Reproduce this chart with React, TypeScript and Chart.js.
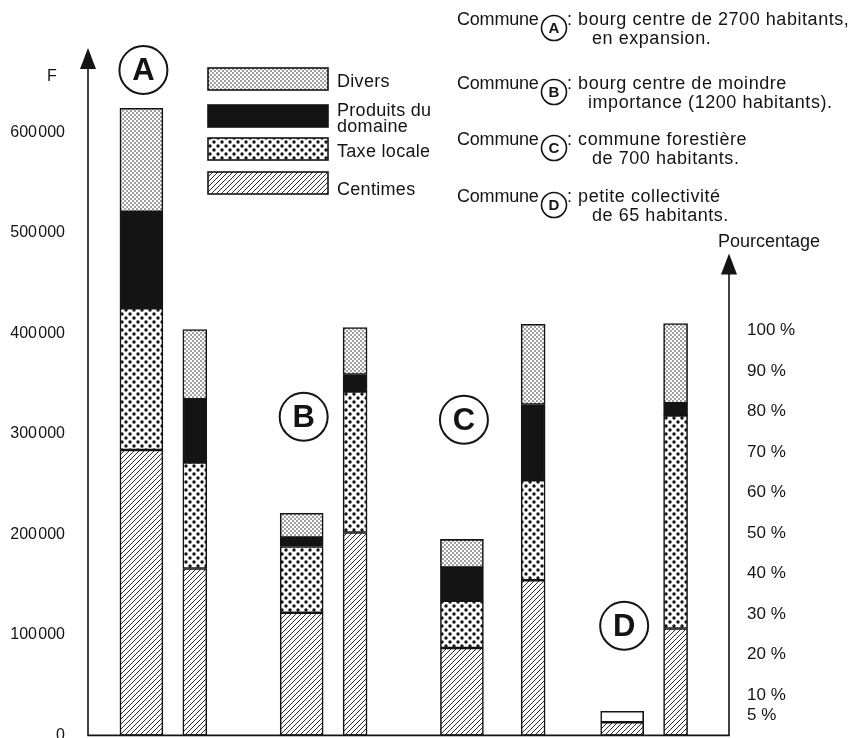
import React, { useEffect, useRef } from 'react';
import { Chart, registerables } from 'chart.js';

Chart.register(...registerables);

// ---------------- DATA ----------------
const communes = ['A', 'B', 'C', 'D'];
const seriesNames = ['Centimes', 'Taxe locale', 'Produits du domaine', 'Divers'];

// Montants en francs (barre large de chaque commune)
const centimesF = [284000, 122000, 87000, 13000];
const taxeLocaleF = [141000, 66000, 47000, null];
const produitsF = [96000, 9000, 33000, null];
const diversF = [103000, 24000, 28000, null];
const nonDetailleF = [null, null, null, 11000];

// Répartition en pourcentage (barre étroite de chaque commune)
const centimesPct = [41.2, 50.1, 38.3, 26.4];
const taxeLocalePct = [26.2, 34.8, 24.7, 52.6];
const produitsPct = [15.6, 4.2, 18.7, 3.0];
const diversPct = [17.2, 11.6, 19.8, 19.7];

// Axes
const fTicks = [0, 100000, 200000, 300000, 400000, 500000, 600000];
const pctTicks = [5, 10, 20, 30, 40, 50, 60, 70, 80, 90, 100];
const F_AXIS_MAX = 684000;
const F_FOR_100_PCT = 403000;
const PCT_AXIS_TOP = 119;

// Textes
const legendLabels = [['Divers'], ['Produits du', 'domaine'], ['Taxe locale'], ['Centimes']];
const descLines = [
  [': bourg centre de 2700 habitants,', 'en expansion.'],
  [': bourg centre de moindre', 'importance (1200 habitants).'],
  [': commune forestière', 'de 700 habitants.'],
  [': petite collectivité', 'de 65 habitants.'],
];
// Emplacement des lettres cerclées (valeur sur l'axe F)
const letterAnchorF = [662000, 317000, 314000, 109000];

// ---------------- LAYOUT ----------------
const SLOTS = 37;
const absSlot = [3, 12, 21, 30];
const pctSlot = [6, 15, 25, 33];
const INK = '#141414';
const FONT = '"Liberation Sans", Arial, sans-serif';
const CANVAS_W = 856;
const CANVAS_H = 768;

function spread(values: (number | null)[], slots: number[]) {
  const arr: (number | null)[] = new Array(SLOTS).fill(null);
  values.forEach((v, i) => { arr[slots[i]] = v; });
  return arr;
}

function makePattern(size: number, draw: (c: CanvasRenderingContext2D) => void) {
  const cv = document.createElement('canvas');
  cv.width = size; cv.height = size;
  const c = cv.getContext('2d')!;
  c.fillStyle = '#ffffff';
  c.fillRect(0, 0, size, size);
  c.fillStyle = INK; c.strokeStyle = INK;
  draw(c);
  return c.createPattern(cv, 'repeat')!;
}

function fmtF(v: number) {
  if (v === 0) return '0';
  const s = String(v);
  return s.slice(0, s.length - 3) + '\u200A' + s.slice(-3);
}

function text(ctx: CanvasRenderingContext2D, t: string, x: number, y: number, font: string, align: CanvasTextAlign = 'left', spacing = '0px') {
  ctx.font = font;
  (ctx as any).letterSpacing = spacing;
  ctx.textAlign = align;
  ctx.textBaseline = 'middle';
  ctx.fillText(t, x, y);
}

function circled(ctx: CanvasRenderingContext2D, letter: string, x: number, y: number, r: number, size: number, lw: number) {
  ctx.beginPath();
  ctx.arc(x, y, r, 0, Math.PI * 2);
  ctx.lineWidth = lw;
  ctx.stroke();
  text(ctx, letter, x, y + size * 0.04, `bold ${size}px ${FONT}`, 'center');
}

function arrow(ctx: CanvasRenderingContext2D, x: number, tipY: number) {
  ctx.beginPath();
  ctx.moveTo(x, tipY);
  ctx.lineTo(x - 8, tipY + 21);
  ctx.lineTo(x + 8, tipY + 21);
  ctx.closePath();
  ctx.fill();
}

export default function App() {
  const ref = useRef<HTMLCanvasElement | null>(null);

  useEffect(() => {
    if (!ref.current) return;
    const pDivers = makePattern(4, (c) => {
      c.beginPath(); c.arc(1, 1, 0.75, 0, Math.PI * 2); c.fill();
      c.beginPath(); c.arc(3, 3, 0.75, 0, Math.PI * 2); c.fill();
    });
    const pTaxe = makePattern(8, (c) => {
      c.beginPath(); c.arc(2, 2, 1.7, 0, Math.PI * 2); c.fill();
      c.beginPath(); c.arc(6, 6, 1.7, 0, Math.PI * 2); c.fill();
    });
    const pCentimes = makePattern(5, (c) => {
      c.lineWidth = 0.9;
      c.beginPath();
      c.moveTo(-1, 6); c.lineTo(6, -1);
      c.moveTo(-1, 1); c.lineTo(1, -1);
      c.moveTo(4, 6); c.lineTo(6, 4);
      c.stroke();
    });
    const fills = [pCentimes, pTaxe, INK, pDivers];

    const absValues = [centimesF, taxeLocaleF, produitsF, diversF];
    const pctValues = [centimesPct, taxeLocalePct, produitsPct, diversPct];

    const common = {
      borderColor: INK,
      borderWidth: 1.6,
      borderSkipped: false as const,
      grouped: false,
    };

    const datasets: any[] = [];
    absValues.forEach((vals, k) => {
      datasets.push({
        ...common,
        label: seriesNames[k] + ' (F)',
        data: spread(vals, absSlot),
        backgroundColor: fills[k],
        yAxisID: 'y',
        stack: 'abs',
        barThickness: 43,
      });
    });
    datasets.push({
      ...common,
      label: 'Non détaillé (F)',
      data: spread(nonDetailleF, absSlot),
      backgroundColor: '#ffffff',
      yAxisID: 'y',
      stack: 'abs',
      barThickness: 43,
    });
    pctValues.forEach((vals, k) => {
      datasets.push({
        ...common,
        label: seriesNames[k] + ' (%)',
        data: spread(vals, pctSlot),
        backgroundColor: fills[k],
        yAxisID: 'y1',
        stack: 'pct',
        barThickness: 24,
      });
    });

    const labels = new Array(SLOTS).fill('').map((_, i) => {
      const a = absSlot.indexOf(i);
      if (a >= 0) return communes[a] + ' (F)';
      const p = pctSlot.indexOf(i);
      if (p >= 0) return communes[p] + ' (%)';
      return '';
    });

    const decor = {
      id: 'decor',
      afterDraw(chart: any) {
        const { ctx, chartArea, scales } = chart;
        const { left, right, top, bottom } = chartArea;
        ctx.save();
        ctx.strokeStyle = INK;
        ctx.fillStyle = INK;
        ctx.lineWidth = 1.6;
        const rTip = scales.y1.getPixelForValue(PCT_AXIS_TOP);
        ctx.beginPath();
        ctx.moveTo(left, top + 18);
        ctx.lineTo(left, bottom);
        ctx.lineTo(right, bottom);
        ctx.lineTo(right, rTip + 18);
        ctx.stroke();
        arrow(ctx, left, top);
        arrow(ctx, right, rTip);

        text(ctx, 'F', left - 36, 77, `16px ${FONT}`, 'center');
        text(ctx, 'Pourcentage', right + 40, rTip - 11, `18px ${FONT}`, 'center');

        // circled commune letters
        communes.forEach((c, i) => {
          const x = scales.x.getPixelForValue(absSlot[i]) + 2;
          const y = scales.y.getPixelForValue(letterAnchorF[i]);
          circled(ctx, c, x, y, 24, 31, 2);
        });

        // legend
        const boxTops = [68, 105, 138, 172];
        const labelYs = [[82], [111, 127], [152], [190]];
        const legendFills = [pDivers, INK, pTaxe, pCentimes];
        legendLabels.forEach((lines, i) => {
          ctx.fillStyle = legendFills[i];
          ctx.fillRect(208, boxTops[i], 120, 22);
          ctx.lineWidth = 1.6;
          ctx.strokeStyle = INK;
          ctx.strokeRect(208, boxTops[i], 120, 22);
          ctx.fillStyle = INK;
          lines.forEach((l, j) => text(ctx, l, 337, labelYs[i][j], `18px ${FONT}`, 'left', '0.3px'));
        });

        // descriptions
        const rowY = [20, 84, 140, 197];
        communes.forEach((c, i) => {
          const y = rowY[i];
          ctx.fillStyle = INK;
          text(ctx, 'Commune', 457, y, `18px ${FONT}`, 'left', '-0.2px');
          circled(ctx, c, 554, y + 8, 12.5, 15, 1.6);
          text(ctx, descLines[i][0], 567, y, `18px ${FONT}`, 'left', '0.55px');
          text(ctx, descLines[i][1], i === 1 ? 588 : 592, y + 19, `18px ${FONT}`, 'left', '0.55px');
        });
        ctx.restore();
      },
    };

    const chart = new Chart(ref.current, {
      type: 'bar',
      data: { labels, datasets },
      options: {
        animation: false,
        responsive: false,
        maintainAspectRatio: false,
        devicePixelRatio: 1,
        layout: { padding: { top: 48, bottom: 25, left: 0, right: 0 } },
        plugins: { legend: { display: false }, tooltip: { enabled: false } },
        scales: {
          x: { type: 'category', display: false, offset: false, stacked: true, grid: { display: false } },
          y: {
            type: 'linear',
            position: 'left',
            min: 0,
            max: F_AXIS_MAX,
            stacked: true,
            grid: { display: false, drawTicks: false },
            border: { display: false },
            afterBuildTicks: (s: any) => { s.ticks = fTicks.map((v) => ({ value: v })); },
            afterFit: (s: any) => { s.width = 88; },
            ticks: {
              padding: 23,
              color: INK,
              font: { family: FONT, size: 16 },
              callback: (v: any) => fmtF(Number(v)),
            },
          },
          y1: {
            type: 'linear',
            position: 'right',
            min: 0,
            max: (F_AXIS_MAX / F_FOR_100_PCT) * 100,
            stacked: true,
            grid: { display: false, drawTicks: false },
            border: { display: false },
            afterBuildTicks: (s: any) => { s.ticks = pctTicks.map((v) => ({ value: v })); },
            afterFit: (s: any) => { s.width = 127; },
            ticks: {
              padding: 18,
              color: INK,
              font: { family: FONT, size: 17 },
              callback: (v: any) => `${v} %`,
            },
          },
        },
      },
      plugins: [decor],
    });
    return () => chart.destroy();
  }, []);

  return (
    <div style={{ position: 'absolute', left: 0, top: 0, width: CANVAS_W, height: 738, overflow: 'hidden', background: '#fff' }}>
      <canvas ref={ref} width={CANVAS_W} height={CANVAS_H} style={{ display: 'block', width: CANVAS_W, height: CANVAS_H }} />
    </div>
  );
}
